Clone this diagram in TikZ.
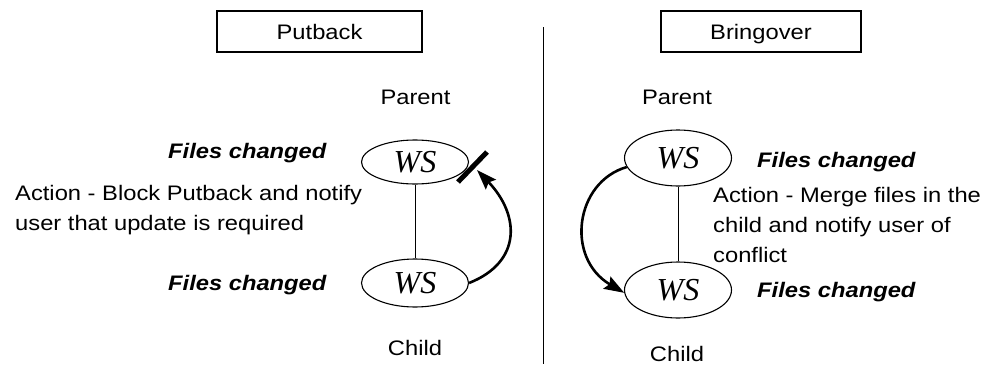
\documentclass[tikz,border=0pt]{standalone}
\usepackage{fontspec}
\setmainfont{Liberation Sans}[FakeStretch=1.13]
\newfontfamily\wsfont{Liberation Serif}
\usetikzlibrary{shapes.geometric,arrows.meta}
\begin{document}
\begin{tikzpicture}[x=1pt,y=-1pt,
  txt/.style={inner sep=0pt, font=\fontsize{21}{30}\selectfont},
  note/.style={txt, anchor=base west},
  changed/.style={note, font=\fontsize{21}{30}\selectfont\bfseries\itshape},
  place/.style={txt, anchor=base},
  titlebox/.style={draw, line width=1.3pt, inner sep=0pt, text height=15pt,
    text depth=0pt, minimum height=41pt, font=\fontsize{21}{30}\selectfont},
  ws/.style={draw, ellipse, line width=1.1pt, inner sep=0pt, minimum width=107pt,
    font=\wsfont\itshape\fontsize{32}{32}\selectfont},
  link/.style={line width=1pt},
  move/.style={line width=2.6pt, -{Stealth[length=20pt,width=14pt,inset=3pt]}},
  block/.style={line width=5pt},
]
\useasboundingbox (0,0) rectangle (1000,364);

% headings
\node[titlebox, minimum width=205pt] (put) at (319.5,31.5) {Putback};
\node[titlebox, minimum width=200pt] (bring) at (761,31.5) {Bringover};

% divider
\coordinate (divtop) at (543,27);
\coordinate (divbot) at (543,364);
\draw[link] (divtop) -- (divbot);

% Putback side
\node[place] (lparent) at (415.5,104) {Parent};
\node[ws, minimum height=44pt] (lt) at (415,162) {WS};
\node[ws, minimum height=48pt] (lb) at (415,283) {WS};
\node[place] (lchild) at (415,355) {Child};
\draw[link] (lt) -- (lb);
\node[changed] (lf1) at (168,158) {Files changed};
\node[changed] (lf2) at (168,290) {Files changed};
\node[note] (la1) at (15,200) {Action - Block Putback and notify};
\node[note] (la2) at (15,230) {user that update is required};
\coordinate (ltip) at (477,170);
\draw[move] (lb.east) .. controls (522,262) and (520,215) .. (ltip);
\coordinate (bar1) at (458,182);
\coordinate (bar2) at (487,152);
\draw[block] (bar1) -- (bar2);

% Bringover side
\node[place] (rparent) at (677,104) {Parent};
\node[ws, minimum height=56pt] (rt) at (678,158) {WS};
\node[ws, minimum height=56pt] (rb) at (678,290) {WS};
\node[place] (rchild) at (677,361) {Child};
\draw[link] (rt) -- (rb);
\node[changed] (rf1) at (757,167) {Files changed};
\node[changed] (rf2) at (757,297) {Files changed};
\node[note] (ra1) at (713,202) {Action - Merge files in the};
\node[note] (ra2) at (713,232) {child and notify user of};
\node[note] (ra3) at (713,262) {conflict};
\draw[move] (rt.190) .. controls (575,182) and (565,258) .. (rb.183);
\end{tikzpicture}
\end{document}
